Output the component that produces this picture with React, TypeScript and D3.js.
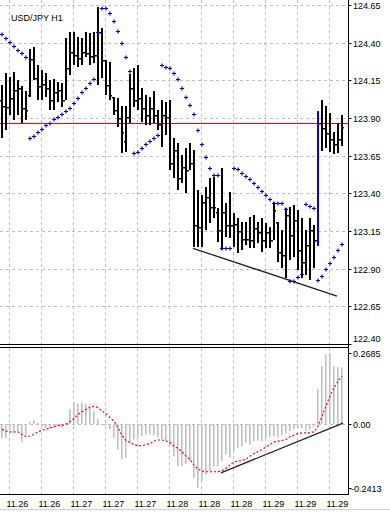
import React, { useEffect, useRef } from 'react';
import * as d3 from 'd3';

// USD/JPY H1 bars (one entry per bar, left to right)
const highs = [
  124.119, 124.199, 124.172, 124.205, 124.152, 124.112, 124.079, 124.358, 124.371, 124.252,
  124.218, 124.199, 124.152, 124.159, 124.139, 124.132, 124.431, 124.471, 124.471, 124.438,
  124.431, 124.471, 124.464, 124.471, 124.637, 124.497, 124.285, 124.272, 124.039, 124.033,
  123.980, 123.980, 124.192, 124.232, 124.252, 124.099, 124.053, 124.039, 124.079, 123.953,
  124.019, 124.006, 124.019, 123.767, 123.734, 123.654, 123.701, 123.734, 123.687, 123.422,
  123.389, 123.442, 123.502, 123.508, 123.302, 123.568, 123.336, 123.409, 123.269, 123.236,
  123.210, 123.210, 123.243, 123.256, 123.210, 123.236, 123.203, 123.176, 123.342, 123.210,
  123.156, 123.302, 123.309, 123.322, 123.289, 123.236, 123.156, 123.236, 123.190, 123.946,
  124.019, 123.980, 123.933, 123.807, 123.867, 123.920,
];
const lows = [
  123.767, 123.820, 123.920, 123.887, 123.920, 123.867, 123.887, 124.039, 124.152, 124.019,
  124.019, 124.039, 123.953, 123.953, 124.006, 123.973, 124.019, 124.185, 124.252, 124.238,
  124.252, 124.305, 124.252, 124.265, 124.119, 124.165, 124.053, 124.019, 123.920, 123.840,
  123.668, 123.674, 123.867, 123.973, 123.953, 123.873, 123.853, 123.853, 123.867, 123.820,
  123.707, 123.787, 123.555, 123.502, 123.422, 123.468, 123.402, 123.555, 123.044, 123.044,
  123.044, 123.156, 123.203, 123.236, 123.077, 123.024, 123.110, 123.103, 123.044, 123.004,
  123.024, 123.057, 123.037, 123.037, 123.070, 123.010, 123.037, 123.037, 123.090, 122.944,
  122.904, 122.838, 122.957, 122.977, 122.891, 122.838, 122.858, 122.825, 122.904, 123.050,
  123.681, 123.701, 123.674, 123.661, 123.668, 123.714,
];
const opens = [
  124.019, 123.980, 123.973, 124.033, 124.086, 124.099, 123.966, 124.053, 124.292, 124.165,
  124.112, 124.126, 124.099, 124.019, 124.072, 124.086, 124.019, 124.232, 124.338, 124.318,
  124.298, 124.338, 124.331, 124.311, 124.318, 124.471, 124.285, 124.119, 124.039, 123.953,
  123.900, 123.747, 123.907, 124.099, 124.019, 124.033, 123.966, 123.920, 123.966, 123.920,
  123.860, 123.920, 123.907, 123.601, 123.687, 123.502, 123.575, 123.555, 123.601, 123.190,
  123.176, 123.342, 123.376, 123.309, 123.276, 123.156, 123.276, 123.190, 123.190, 123.196,
  123.150, 123.097, 123.097, 123.090, 123.170, 123.143, 123.090, 123.143, 123.090, 123.210,
  123.010, 122.990, 123.256, 123.123, 123.223, 123.024, 122.944, 123.057, 123.156, 123.090,
  123.867, 123.834, 123.800, 123.760, 123.727, 123.760,
];
const closes = [
  123.980, 123.973, 124.033, 124.086, 124.099, 123.966, 123.953, 124.292, 124.165, 124.112,
  124.126, 124.099, 124.019, 124.072, 124.086, 124.019, 124.232, 124.338, 124.318, 124.298,
  124.338, 124.331, 124.311, 124.318, 124.471, 124.285, 124.119, 124.053, 123.953, 123.900,
  123.807, 123.907, 124.099, 124.019, 124.033, 123.966, 123.920, 123.966, 123.920, 123.860,
  123.920, 123.907, 123.601, 123.687, 123.502, 123.575, 123.555, 123.601, 123.190, 123.176,
  123.342, 123.376, 123.309, 123.309, 123.156, 123.276, 123.190, 123.190, 123.196, 123.150,
  123.097, 123.097, 123.090, 123.170, 123.143, 123.090, 123.143, 123.090, 123.289, 123.010,
  122.990, 123.256, 123.123, 123.223, 123.024, 122.944, 123.057, 123.156, 123.090, 123.867,
  123.834, 123.800, 123.760, 123.727, 123.760, 123.840,
];
// parabolic SAR, one dot per bar
const sar = [
  124.456, 124.429, 124.402, 124.376, 124.353, 124.329, 124.303, 123.767, 123.782, 123.805,
  123.829, 123.851, 123.865, 123.891, 123.908, 123.924, 123.944, 123.968, 123.997, 124.031,
  124.071, 124.097, 124.130, 124.157, 124.469, 124.632, 124.632, 124.595, 124.546, 124.479,
  124.401, 124.303, 124.212, 123.666, 123.676, 123.699, 123.725, 123.745, 123.765, 123.785,
  124.250, 124.236, 124.230, 124.197, 124.157, 124.097, 124.041, 123.984, 123.924, 123.818,
  123.725, 123.639, 123.566, 123.522, 123.522, 123.035, 123.035, 123.035, 123.566, 123.559,
  123.533, 123.515, 123.493, 123.466, 123.444, 123.413, 123.389, 123.364, 123.334, 123.334,
  123.334, 123.294, 122.820, 122.820, 122.843, 122.864, 123.329, 123.316, 123.300, 122.825,
  122.851, 122.898, 122.935, 122.979, 123.024, 123.062,
];
// MACD main (histogram) and signal (red dotted)
const macd = [
  -0.054, -0.052, -0.024, -0.029, -0.026, -0.068, -0.042, 0.009, 0.014, 0.005,
  -0.008, -0.014, -0.016, -0.011, -0.008, -0.014, 0.005, 0.055, 0.084, 0.077,
  0.081, 0.077, 0.062, 0.049, 0.018, -0.001, -0.004, -0.020, -0.052, -0.096,
  -0.133, -0.127, -0.070, -0.058, -0.054, -0.045, -0.039, -0.039, -0.042, -0.049,
  -0.058, -0.064, -0.077, -0.121, -0.158, -0.158, -0.152, -0.140, -0.203, -0.2413,
  -0.213, -0.190, -0.177, -0.158, -0.158, -0.140, -0.114, -0.127, -0.102, -0.089,
  -0.083, -0.070, -0.077, -0.064, -0.062, -0.064, -0.054, -0.049, -0.045, -0.049,
  -0.042, -0.036, -0.026, -0.020, -0.014, -0.016, -0.026, -0.020, -0.008, 0.131,
  0.219, 0.263, 0.2685, 0.219, 0.215, 0.213,
];
const signal = [
  -0.020, -0.026, -0.029, -0.030, -0.029, -0.039, -0.047, -0.045, -0.039, -0.029,
  -0.023, -0.020, -0.014, -0.011, -0.005, -0.005, -0.001, 0.009, 0.021, 0.036,
  0.047, 0.055, 0.064, 0.067, 0.062, 0.049, 0.039, 0.024, 0.011, -0.014,
  -0.042, -0.062, -0.070, -0.077, -0.081, -0.081, -0.077, -0.074, -0.064, -0.060,
  -0.060, -0.064, -0.070, -0.083, -0.092, -0.104, -0.121, -0.133, -0.155, -0.171,
  -0.177, -0.180, -0.180, -0.180, -0.180, -0.177, -0.167, -0.155, -0.143, -0.140,
  -0.137, -0.133, -0.121, -0.112, -0.104, -0.096, -0.087, -0.077, -0.068, -0.064,
  -0.062, -0.058, -0.048, -0.042, -0.035, -0.033, -0.033, -0.033, -0.029, -0.008,
  0.030, 0.068, 0.106, 0.137, 0.162, 0.181,
];

const priceTicks = [124.65, 124.40, 124.15, 123.90, 123.65, 123.40, 123.15, 122.90, 122.65, 122.40];
const macdTicks = [0.2685, 0, -0.2413];
const dateLabels = ['11.26', '11.26', '11.27', '11.27', '11.27', '11.28', '11.28', '11.28', '11.29', '11.29', '11.29'];
const hLevel = 123.865;
const priceTrend = [[48, 123.035], [84, 122.718]];
const macdTrend = [[55, -0.184], [85.5, 0.004]];
const blueBar = 79;

const FONT = '"Liberation Sans", Arial, sans-serif';

function App() {
  const ref = useRef(null);

  useEffect(() => {
    const svg = d3.select(ref.current);
    svg.selectAll('*').remove();

    const axisX = 348.5;
    const x = d3.scaleLinear().domain([0, 85]).range([1, 341]);
    const y = d3.scaleLinear().domain([122.40, 124.65]).range([344, 5]);
    const ym = d3.scaleLinear().domain([-0.2413, 0.2685]).range([488, 353]);
    const crisp = v => Math.round(v) + 0.5;

    svg.append('rect').attr('width', 390).attr('height', 512).attr('fill', '#fff');

    // grid
    const grid = svg.append('g').attr('stroke', '#c0c0c0').attr('stroke-dasharray', '3,3');
    d3.range(11).forEach(k => {
      const gx = crisp(x(2 + k * 8));
      grid.append('line').attr('x1', gx).attr('x2', gx).attr('y1', 0).attr('y2', 344);
      grid.append('line').attr('x1', gx).attr('x2', gx).attr('y1', 348).attr('y2', 494);
    });
    priceTicks.forEach(p => {
      grid.append('line').attr('x1', 0).attr('x2', axisX).attr('y1', crisp(y(p))).attr('y2', crisp(y(p)));
    });
    grid.append('line').attr('x1', 0).attr('x2', axisX).attr('y1', crisp(ym(0))).attr('y2', crisp(ym(0)));

    // horizontal level
    svg.append('line')
      .attr('x1', 0).attr('x2', axisX)
      .attr('y1', crisp(y(hLevel))).attr('y2', crisp(y(hLevel)))
      .attr('stroke', '#ff0000');

    // bars
    const bars = svg.append('g');
    highs.forEach((h, i) => {
      const cx = Math.round(x(i));
      const col = i === blueBar ? '#0000ff' : '#000';
      bars.append('rect').attr('x', cx).attr('width', 2)
        .attr('y', y(h)).attr('height', Math.max(1, y(lows[i]) - y(h))).attr('fill', col);
      bars.append('rect').attr('x', cx - 1).attr('width', 1)
        .attr('y', Math.round(y(opens[i]))).attr('height', 1.5).attr('fill', col);
      bars.append('rect').attr('x', cx + 2).attr('width', 1)
        .attr('y', Math.round(y(closes[i]))).attr('height', 1.5).attr('fill', col);
    });

    // parabolic SAR
    const dots = svg.append('g').attr('stroke', '#0000ff').attr('stroke-width', 1.2);
    sar.forEach((s, i) => {
      const cx = Math.round(x(i)) + 1;
      const cy = Math.round(y(s)) + 0.5;
      dots.append('path').attr('d', `M${cx - 2},${cy}H${cx + 2}M${cx},${cy - 2}V${cy + 2}`);
    });

    // price trend line
    svg.append('line')
      .attr('x1', x(priceTrend[0][0])).attr('y1', y(priceTrend[0][1]))
      .attr('x2', x(priceTrend[1][0])).attr('y2', y(priceTrend[1][1]))
      .attr('stroke', '#222').attr('stroke-width', 1.3);

    // MACD histogram
    const hist = svg.append('g').attr('fill', '#c0c0c0');
    macd.forEach((v, i) => {
      const y0 = ym(0), y1 = ym(v);
      hist.append('rect').attr('x', Math.round(x(i))).attr('width', 1.6)
        .attr('y', Math.min(y0, y1)).attr('height', Math.max(1, Math.abs(y1 - y0)));
    });

    // signal line
    const line = d3.line().x((d, i) => Math.round(x(i)) + 1).y(d => ym(d));
    svg.append('path').attr('d', line(signal))
      .attr('fill', 'none').attr('stroke', '#ff0000').attr('stroke-width', 1.2)
      .attr('stroke-dasharray', '2,2');

    // MACD trend line
    svg.append('line')
      .attr('x1', x(macdTrend[0][0])).attr('y1', ym(macdTrend[0][1]))
      .attr('x2', x(macdTrend[1][0])).attr('y2', ym(macdTrend[1][1]))
      .attr('stroke', '#222').attr('stroke-width', 1.3);

    // frames
    const frame = svg.append('g').attr('stroke', '#000');
    frame.append('line').attr('x1', 0).attr('x2', axisX).attr('y1', 344.5).attr('y2', 344.5);
    frame.append('line').attr('x1', 0).attr('x2', axisX).attr('y1', 347.5).attr('y2', 347.5);
    frame.append('line').attr('x1', axisX).attr('x2', axisX).attr('y1', 0).attr('y2', 495);
    frame.append('line').attr('x1', 0).attr('x2', axisX).attr('y1', 494.5).attr('y2', 494.5);
    svg.append('line').attr('x1', 0).attr('x2', 390).attr('y1', 509.5).attr('y2', 509.5)
      .attr('stroke', '#d0d0d0');

    // right axis labels
    const labels = svg.append('g').attr('font-family', FONT).attr('font-size', 9).attr('fill', '#000');
    priceTicks.forEach((p, k) => {
      const ty = crisp(y(p));
      frame.append('line').attr('x1', axisX).attr('x2', axisX + 3).attr('y1', ty).attr('y2', ty);
      const ly = k === priceTicks.length - 1 ? ty - 6 : ty;
      labels.append('text').attr('x', 353).attr('y', ly).attr('dy', '0.35em').text(p.toFixed(2));
    });
    macdTicks.forEach(v => {
      const ty = crisp(ym(v));
      frame.append('line').attr('x1', axisX).attr('x2', axisX + 3).attr('y1', ty).attr('y2', ty);
      const txt = v === 0 ? '0.00' : String(v);
      labels.append('text').attr('x', v < 0 ? 351 : 353).attr('y', ty).attr('dy', '0.35em').text(txt);
    });

    // time labels
    dateLabels.forEach((d, k) => {
      const gx = crisp(x(2 + k * 8));
      labels.append('text').attr('x', gx - 3).attr('y', 507).text(d);
    });

    // title
    labels.append('text').attr('x', 11).attr('y', 21).text('USD/JPY H1');
  }, []);

  return (
    <svg ref={ref} width={390} height={512}
      style={{ position: 'absolute', left: 0, top: 0, display: 'block' }} />
  );
}

export default App;
